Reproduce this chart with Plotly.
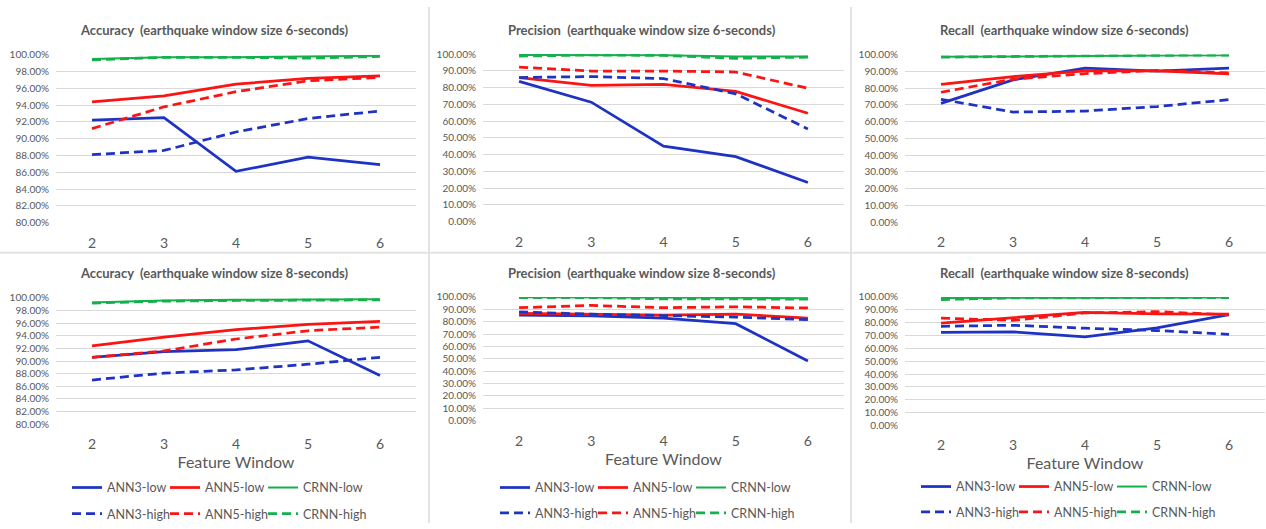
import plotly.graph_objects as go

# Feature window sizes on the x axis
windows = ["2", "3", "4", "5", "6"]

# Accuracy (%), earthquake window 6 s
acc6_ann3_low = [92.2, 92.5, 86.1, 87.8, 86.9]
acc6_ann5_low = [94.4, 95.1, 96.5, 97.2, 97.5]
acc6_crnn_low = [99.5, 99.7, 99.7, 99.8, 99.9]
acc6_ann3_high = [88.1, 88.6, 90.8, 92.4, 93.3]
acc6_ann5_high = [91.2, 93.8, 95.6, 96.9, 97.3]
acc6_crnn_high = [99.4, 99.7, 99.7, 99.6, 99.8]

# Precision (%), earthquake window 6 s
prec6_ann3_low = [83.7, 71.3, 45.0, 38.8, 23.3]
prec6_ann5_low = [86.0, 81.4, 81.9, 77.7, 64.7]
prec6_crnn_low = [99.5, 99.6, 99.3, 98.5, 98.6]
prec6_ann3_high = [86.0, 86.6, 85.4, 76.3, 55.3]
prec6_ann5_high = [92.2, 89.9, 89.9, 89.3, 79.6]
prec6_crnn_high = [98.8, 99.5, 99.2, 97.5, 98.2]

# Recall (%), earthquake window 6 s
rec6_ann3_low = [70.9, 84.9, 91.9, 90.1, 91.9]
rec6_ann5_low = [82.2, 86.8, 90.3, 90.3, 88.4]
rec6_crnn_low = [98.6, 99.0, 99.2, 99.4, 99.6]
rec6_ann3_high = [73.3, 65.7, 66.3, 69.0, 73.1]
rec6_ann5_high = [77.5, 85.3, 88.6, 90.5, 89.0]
rec6_crnn_high = [98.4, 99.0, 99.2, 99.5, 99.7]

# Accuracy (%), earthquake window 8 s
acc8_ann3_low = [90.6, 91.5, 91.8, 93.2, 87.7]
acc8_ann5_low = [92.4, 93.8, 95.0, 95.8, 96.3]
acc8_crnn_low = [99.3, 99.6, 99.7, 99.8, 99.8]
acc8_ann3_high = [87.0, 88.1, 88.6, 89.5, 90.6]
acc8_ann5_high = [90.6, 91.6, 93.5, 94.8, 95.4]
acc8_crnn_high = [99.2, 99.5, 99.6, 99.7, 99.7]

# Precision (%), earthquake window 8 s
prec8_ann3_low = [85.3, 84.7, 82.9, 78.4, 48.2]
prec8_ann5_low = [86.8, 85.8, 85.3, 86.1, 82.9]
prec8_crnn_low = [99.8, 99.8, 99.5, 99.3, 99.0]
prec8_ann3_high = [87.9, 86.1, 85.0, 83.7, 81.6]
prec8_ann5_high = [91.3, 93.2, 91.3, 92.1, 91.1]
prec8_crnn_high = [99.5, 99.5, 98.5, 98.5, 98.3]

# Recall (%), earthquake window 8 s
rec8_ann3_low = [72.4, 72.9, 68.9, 75.9, 86.3]
rec8_ann5_low = [79.7, 84.1, 88.1, 86.8, 86.6]
rec8_crnn_low = [99.2, 99.5, 99.5, 99.5, 99.6]
rec8_ann3_high = [77.2, 78.0, 75.7, 73.9, 70.9]
rec8_ann5_high = [83.5, 81.8, 87.6, 88.6, 86.1]
rec8_crnn_high = [98.0, 99.3, 99.4, 99.5, 99.5]

series_names = ["ANN3-low", "ANN5-low", "CRNN-low", "ANN3-high", "ANN5-high", "CRNN-high"]

panel_titles = [
    "Accuracy\u00a0 (earthquake window size 6-seconds)",
    "Precision\u00a0 (earthquake window size 6-seconds)",
    "Recall\u00a0 (earthquake window size 6-seconds)",
    "Accuracy\u00a0 (earthquake window size 8-seconds)",
    "Precision\u00a0 (earthquake window size 8-seconds)",
    "Recall\u00a0 (earthquake window size 8-seconds)",
]
panel_data = [
    [acc6_ann3_low, acc6_ann5_low, acc6_crnn_low, acc6_ann3_high, acc6_ann5_high, acc6_crnn_high],
    [prec6_ann3_low, prec6_ann5_low, prec6_crnn_low, prec6_ann3_high, prec6_ann5_high, prec6_crnn_high],
    [rec6_ann3_low, rec6_ann5_low, rec6_crnn_low, rec6_ann3_high, rec6_ann5_high, rec6_crnn_high],
    [acc8_ann3_low, acc8_ann5_low, acc8_crnn_low, acc8_ann3_high, acc8_ann5_high, acc8_crnn_high],
    [prec8_ann3_low, prec8_ann5_low, prec8_crnn_low, prec8_ann3_high, prec8_ann5_high, prec8_crnn_high],
    [rec8_ann3_low, rec8_ann5_low, rec8_crnn_low, rec8_ann3_high, rec8_ann5_high, rec8_crnn_high],
]

# ---- styling / layout (pixels on a 1266 x 529 page) ----
W, H = 1266, 529
BLUE, RED, GREEN = "#1f33c2", "#fa1414", "#13b04c"
TEXT = "#595959"
GRID = "#d9d9d9"
FONT = "Lato"

line_styles = [
    dict(color=BLUE, width=2.75, dash="solid"),
    dict(color=RED, width=2.75, dash="solid"),
    dict(color=GREEN, width=2.0, dash="solid"),
    dict(color=BLUE, width=2.75, dash="9px,5px"),
    dict(color=RED, width=2.75, dash="9px,5px"),
    dict(color=GREEN, width=2.75, dash="9px,5px"),
]

# left, right, top, bottom of each plot area; y range and step
panels = [
    dict(l=56, r=416, t=49, b=221, yr=[80, 100], dt=2),
    dict(l=483, r=844, t=48.3, b=220, yr=[0, 100], dt=10),
    dict(l=905, r=1265, t=48.7, b=220.7, yr=[0, 100], dt=10),
    dict(l=56, r=416, t=298.3, b=427.7, yr=[80, 100], dt=2),
    dict(l=483, r=844, t=297.3, b=424, yr=[0, 100], dt=10),
    dict(l=905, r=1265, t=297.3, b=429, yr=[0, 100], dt=10),
]
title_pos = [(214, 24), (642, 24), (1064, 24), (214, 273), (642, 273), (1064, 273)]

# legend rows (solid / dashed) under each column: left x, row centres
legend_cols = [(67, 493, 520), (495, 493, 519), (916, 492, 518)]

fig = go.Figure()
layout = dict(
    width=W, height=H,
    margin=dict(l=0, r=0, t=0, b=0),
    paper_bgcolor="white", plot_bgcolor="white",
    font=dict(family=FONT, color=TEXT),
    showlegend=True,
)

for i, (p, data) in enumerate(zip(panels, panel_data)):
    n = "" if i == 0 else str(i + 1)
    col = i % 3
    bottom_row = i >= 3
    layout["xaxis" + n] = dict(
        domain=[p["l"] / W, p["r"] / W],
        anchor="y" + n,
        type="category",
        range=[-0.5, 4.5],
        showgrid=False, zeroline=False, showline=False,
        ticks="", ticklabelstandoff=10,
        tickfont=dict(family=FONT, size=14, color=TEXT),
        title=dict(text="Feature Window", standoff=4,
                   font=dict(family=FONT, size=16, color=TEXT)) if bottom_row else None,
        fixedrange=True,
    )
    layout["yaxis" + n] = dict(
        domain=[1 - p["b"] / H, 1 - p["t"] / H],
        anchor="x" + n,
        range=p["yr"], dtick=p["dt"], tick0=0,
        tickformat=".2f", ticksuffix="%",
        showgrid=True, gridcolor=GRID, gridwidth=1,
        zeroline=False, showline=False,
        ticks="", ticklabelstandoff=6,
        tickfont=dict(family=FONT, size=10, color=TEXT),
        fixedrange=True,
    )
    for k, (name, vals) in enumerate(zip(series_names, data)):
        leg_idx = col * 2 + (0 if k < 3 else 1)
        leg_name = "legend" if leg_idx == 0 else "legend" + str(leg_idx + 1)
        fig.add_trace(go.Scatter(
            x=windows, y=vals, name=name, mode="lines",
            line=line_styles[k],
            xaxis="x" + n, yaxis="y" + n,
            showlegend=bottom_row,
            legend=leg_name,
            legendwidth=75 if k in (2, 5) else None,
        ))

for c, (lx, y1, y2) in enumerate(legend_cols):
    for r, yy in enumerate((y1, y2)):
        idx = c * 2 + r
        key = "legend" if idx == 0 else "legend" + str(idx + 1)
        layout[key] = dict(
            orientation="h", x=lx / W, xanchor="left",
            y=1 - yy / H, yanchor="middle",
            bgcolor="rgba(0,0,0,0)", borderwidth=0,
            entrywidth=53, itemwidth=30,
            font=dict(family=FONT, size=12.5, color=TEXT),
            itemclick=False, itemdoubleclick=False,
        )

annotations = []
for txt, (tx, ty) in zip(panel_titles, title_pos):
    annotations.append(dict(
        text="<b>" + txt + "</b>", x=tx / W, y=1 - ty / H,
        xref="paper", yref="paper", xanchor="center", yanchor="middle",
        showarrow=False, font=dict(family=FONT, size=13, color=TEXT),
    ))
layout["annotations"] = annotations

# light frames separating the six charts
sep = dict(color="#e3e3e3", width=2)
layout["shapes"] = [
    dict(type="line", xref="paper", yref="paper", x0=429 / W, x1=429 / W, y0=0, y1=1, line=sep),
    dict(type="line", xref="paper", yref="paper", x0=851 / W, x1=851 / W, y0=0, y1=1, line=sep),
    dict(type="line", xref="paper", yref="paper", x0=0, x1=1, y0=1 - 252 / H, y1=1 - 252 / H, line=sep),
]

fig.update_layout(**layout)
fig.write_html("out.html")
